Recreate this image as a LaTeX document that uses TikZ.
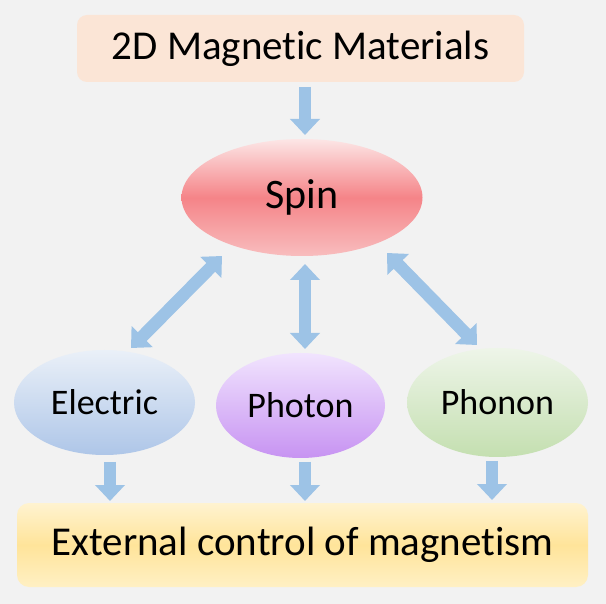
\documentclass[tikz,border=0pt]{standalone}
\usepackage{fontspec}
\setmainfont[RawFeature={-liga}]{Carlito}
\usetikzlibrary{arrows.meta,shapes.geometric}
\definecolor{bg}{HTML}{F2F2F2}
\definecolor{arr}{HTML}{9DC3E6}
\definecolor{peach}{HTML}{FBE5D6}
\definecolor{yelT}{HTML}{FFF3D0}
\definecolor{yelM}{HTML}{FFE49A}
\definecolor{yelB}{HTML}{FFF0C4}
\definecolor{spinT}{HTML}{FCE6E6}
\definecolor{spinM}{HTML}{F58488}
\definecolor{spinB}{HTML}{F8BDBE}
\definecolor{eleT}{HTML}{EAF0F8}
\definecolor{eleB}{HTML}{AEC6E8}
\definecolor{phoT}{HTML}{F1E4FE}
\definecolor{phoB}{HTML}{C793F2}
\definecolor{phnT}{HTML}{EEF5E9}
\definecolor{phnB}{HTML}{C4DFB0}
\tikzset{
  bigarrow/.style={draw=arr, line width=12.5pt,
    -{Triangle[length=16pt, width=29pt]}},
  dblarrow/.style={draw=arr, line width=12.5pt,
    {Triangle[length=16pt, width=29pt]}-{Triangle[length=16pt, width=29pt]}},
  oval/.style={ellipse, inner sep=0pt, font=\fontsize{36}{40}\selectfont},
  bigbox/.style={rectangle, inner sep=0pt, font=\fontsize{41}{46}\selectfont}
}
\begin{document}
\begin{tikzpicture}[x=1pt,y=-1pt]
\fill[bg] (0,0) rectangle (606,604);
\useasboundingbox (0,0) rectangle (606,604);

\node[bigbox, fill=peach, rounded corners=10pt,
  minimum width=447pt, minimum height=67pt] (mat) at (300.5,48.5) {2D Magnetic Materials};

\node[oval, font=\fontsize{42}{46}\selectfont, minimum width=241pt, minimum height=117pt,
  top color=spinT, bottom color=spinB, middle color=spinM] (spin) at (302,197.5) {Spin};

\node[oval, minimum width=181pt, minimum height=105pt,
  top color=eleT, bottom color=eleB] (elec) at (104.5,402.5) {Electric};
\node[oval, minimum width=169pt, minimum height=105pt,
  top color=phoT, bottom color=phoB] (phot) at (300.5,405.5) {Photon};
\node[oval, minimum width=181pt, minimum height=109pt,
  top color=phnT, bottom color=phnB] (phon) at (497.5,402.5) {Phonon};

\node[bigbox, rounded corners=12pt,
  top color=yelT, bottom color=yelB, middle color=yelM,
  minimum width=571pt, minimum height=84pt] (ext) at (302.5,545) {External control of magnetism};

% arrow end points
\coordinate (m1) at (305,87);
\coordinate (m2) at (305,135);
\coordinate (l1) at (131,348);
\coordinate (l2) at (222,256);
\coordinate (c1) at (305,264);
\coordinate (c2) at (305,349);
\coordinate (r1) at (387,253);
\coordinate (r2) at (477,345);
\coordinate (e1) at (110,462);
\coordinate (e2) at (110,501);
\coordinate (p1) at (305,462);
\coordinate (p2) at (305,501);
\coordinate (n1) at (492,461);
\coordinate (n2) at (492,500);

\draw[bigarrow] (m1) -- (m2);
\draw[dblarrow] (l1) -- (l2);
\draw[dblarrow] (c1) -- (c2);
\draw[dblarrow] (r1) -- (r2);
\draw[bigarrow] (e1) -- (e2);
\draw[bigarrow] (p1) -- (p2);
\draw[bigarrow] (n1) -- (n2);
\end{tikzpicture}
\end{document}
